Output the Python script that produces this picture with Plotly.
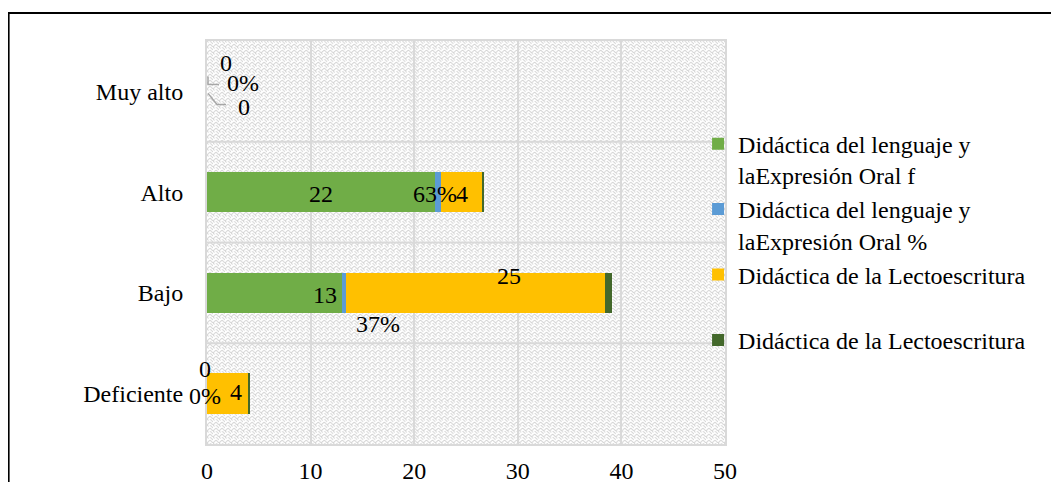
import base64
import numpy as np
import plotly.graph_objects as go

# ---------------- data ----------------
categories = ["Deficiente", "Bajo", "Alto", "Muy alto"]
oral_f = [0, 13, 22, 0]
oral_pct = [0.0, 0.37, 0.63, 0.0]
lecto_f = [4, 25, 4, 0]
lecto_pct = [0.12, 0.76, 0.12, 0.0]
series_names = [
    "Didáctica del lenguaje y<br>laExpresión Oral f",
    "Didáctica del lenguaje y<br>laExpresión Oral %",
    "Didáctica de la Lectoescritura<br> ",
    "Didáctica de la Lectoescritura",
]
x_ticks = [0, 10, 20, 30, 40, 50]

# ---------------- style ----------------
colors = ["#70AD47", "#5B9BD5", "#FFC000", "#43682B"]
FONT = "Liberation Serif"
FS = 24
GRID = "#d9d9d9"
OFF = 8  # page body margin

fig = go.Figure()
values = [oral_f, oral_pct, lecto_f, lecto_pct]
for name, vals, col in zip(series_names, values, colors):
    fig.add_trace(go.Bar(
        y=categories, x=vals, name=name, orientation="h",
        marker=dict(color=col, line=dict(width=0)),
    ))

# ---- data labels (custom placement like the original) ----
v = np.array(values, dtype=float)
starts = np.vstack([np.zeros(4), np.cumsum(v, axis=0)[:-1]])
centers = starts + v / 2
label_texts = [
    [f"{int(a)}" for a in oral_f],
    [f"{round(a*100)}%" for a in oral_pct],
    [f"{int(a)}" for a in lecto_f],
]
# pixel offsets (x, y) per series per category [Def, Bajo, Alto, Muy alto]
shifts = [
    [(-2, 25), (51, -2), (0, -2), (19, 28)],
    [(-2, -2), (34, -31), (-3, -2), (36, 8)],
    [(8, 2), (34, 17), (0, -2), (37, -16)],
]
for s in range(3):
    for i, cat in enumerate(categories):
        dx, dy = shifts[s][i]
        fig.add_annotation(
            x=centers[s][i], y=cat, xref="x", yref="y",
            text=label_texts[s][i], showarrow=False,
            xshift=dx, yshift=dy,
            font=dict(family=FONT, size=FS, color="black"),
        )

# leader lines for "Muy alto" labels
for path in ["M 1,15 L 1,7 L 12,7", "M 1,-2 L 10,-13 L 19,-13"]:
    fig.add_shape(
        type="path", path=path, xref="x", yref="y",
        xsizemode="pixel", ysizemode="pixel", xanchor=0, yanchor=3,
        line=dict(color="#a6a6a6", width=1.5),
    )

# horizontal separators between categories
for yb in [0.5, 1.5, 2.5]:
    fig.add_shape(type="line", xref="paper", yref="y", x0=0, x1=1, y0=yb, y1=yb,
                  line=dict(color=GRID, width=2), layer="below")

# outer black frame
fig.add_shape(type="rect", xref="paper", yref="paper",
              x0=-0.383, x1=1.9, y0=-0.3, y1=1.0695,
              line=dict(color="black", width=2), fillcolor="rgba(0,0,0,0)")

# background texture
svg = (
    "<svg xmlns='http://www.w3.org/2000/svg' width='517' height='403'>"
    "<defs><pattern id='p' width='6' height='6' patternUnits='userSpaceOnUse'>"
    "<rect width='6' height='6' fill='white'/>"
    "<path d='M0,6 L3,3 M3,0 L6,3 M3,3 L6,6 M0,0 L1.5,1.5' stroke='#d4d4d4' stroke-width='1'/>"
    "</pattern></defs><rect width='100%' height='100%' fill='url(#p)'/></svg>"
)
src = "data:image/svg+xml;base64," + base64.b64encode(svg.encode()).decode()
fig.add_layout_image(dict(source=src, xref="paper", yref="paper", x=0, y=1,
                          sizex=1, sizey=1, xanchor="left", yanchor="top",
                          sizing="stretch", layer="below"))

fig.update_layout(
    width=1059 - OFF, height=482 - OFF,
    margin=dict(l=207 - OFF, r=334, t=41 - OFF, b=38, autoexpand=False),
    barmode="stack", bargap=0.6,
    paper_bgcolor="white", plot_bgcolor="rgba(0,0,0,0)",
    font=dict(family=FONT, size=FS, color="black"),
    showlegend=True,
    legend=dict(x=0.948, y=0.80, xanchor="left", yanchor="top",
                traceorder="normal", valign="top",
                font=dict(family=FONT, size=FS, color="black"),
                bgcolor="rgba(0,0,0,0)", tracegroupgap=0),
    xaxis=dict(range=[0, 50], tickvals=x_ticks, showgrid=True, gridcolor=GRID,
               gridwidth=2, zeroline=False, showline=True, mirror=True,
               linecolor=GRID, linewidth=2, ticks="", ticklabelstandoff=4,
               automargin=False,
               tickfont=dict(family=FONT, size=FS, color="black")),
    yaxis=dict(type="category", categoryorder="array", categoryarray=categories,
               range=[-0.5, 3.5], showgrid=False, zeroline=False, showline=True,
               mirror=True, linecolor=GRID, linewidth=2, ticks="",
               ticklabelstandoff=17, automargin=False,
               tickfont=dict(family=FONT, size=FS, color="black")),
)

fig.write_html("out.html")
